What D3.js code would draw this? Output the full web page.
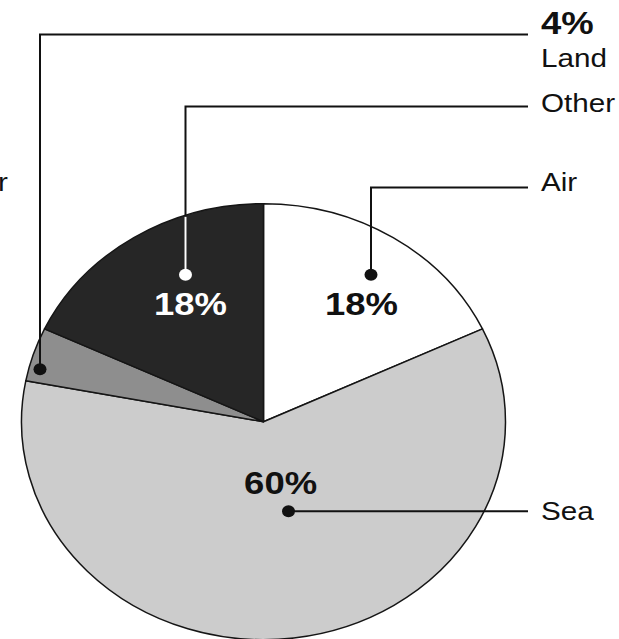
<!DOCTYPE html>
<html>
<head>
<meta charset="utf-8">
<script src="https://cdn.jsdelivr.net/npm/d3@7"></script>
<style>
  html, body { margin: 0; padding: 0; background: #fff; overflow: hidden; }
  text { font-family: "Liberation Sans", Arial, Helvetica, sans-serif; }
</style>
</head>
<body>
<svg id="chart" width="619" height="639"></svg>
<script>
// ---- data ----
const categories = ["Air", "Sea", "Land", "Other"];
const values = [18, 60, 4, 18];
const percentLabels = ["18%", "60%", "4%", "18%"];

// ---- styles / layout (kept separate from data) ----
const fills = { Air: "#ffffff", Sea: "#cccccc", Land: "#8e8e8e", Other: "#262626" };
const pctColor = { Air: "#111", Sea: "#111", Land: "#111", Other: "#ffffff" };
const dotColor = { Air: "#111", Sea: "#111", Land: "#111", Other: "#ffffff" };
const cx = 263.5, cy = 421.7, rx = 242, ry = 218;
const textScaleX = 1.14;
const labelX = 541, lineEndX = 528;
// callout geometry: dot offset from centre, elbow y (null = straight), label baseline
const callouts = {
  Air:   { dx: 107.5, dy: -147,  elbowY: 187.5, nameY: 191 },
  Other: { dx: -78,   dy: -147,  elbowY: 106.5, nameY: 112 },
  Land:  { dx: -223.5, dy: -52.5, elbowY: 34.5,  nameY: 67 },
  Sea:   { dx: 25,    dy: 89.5,  elbowY: null,  nameY: 520 }
};
const pctPos = {
  Air:   { x: 361.5, y: 315, anchor: "middle" },
  Other: { x: 190.5, y: 315, anchor: "middle" },
  Sea:   { x: 280.6, y: 494, anchor: "middle" },
  Land:  { x: labelX, y: 33.5, anchor: "start" }
};

const svg = d3.select("#chart");
const data = categories.map((c, i) => ({ cat: c, value: values[i], pct: percentLabels[i] }));

const pie = d3.pie().sort(null).value(d => d.value);
const arc = d3.arc().innerRadius(0).outerRadius(ry);

const pieG = svg.append("g")
  .attr("transform", `translate(${cx},${cy}) scale(${rx / ry},1)`);

pieG.selectAll("path")
  .data(pie(data))
  .join("path")
  .attr("d", arc)
  .attr("fill", d => fills[d.data.cat])
  .attr("stroke", "#151515")
  .attr("stroke-width", 1.5)
  .attr("stroke-linejoin", "round")
  .attr("vector-effect", "non-scaling-stroke");

// callout lines
const lineG = svg.append("g");
data.forEach(d => {
  const c = callouts[d.cat];
  const px = cx + c.dx, py = cy + c.dy;
  let pts;
  if (c.elbowY === null) pts = [[px, py], [lineEndX, py]];
  else pts = [[px, py], [px, c.elbowY], [lineEndX, c.elbowY]];
  lineG.append("path")
    .attr("d", d3.line()(pts))
    .attr("fill", "none")
    .attr("stroke", d.cat === "Other" ? "#111" : "#111")
    .attr("stroke-width", 2);
});
// the part of the Other line inside its own dark slice is white
{
  const c = callouts.Other;
  const px = cx + c.dx, py = cy + c.dy;
  // find where the vertical crosses the ellipse top
  const t = (px - cx) / rx;
  const yEdge = cy - ry * Math.sqrt(1 - t * t);
  lineG.append("line")
    .attr("x1", px).attr("x2", px)
    .attr("y1", py).attr("y2", yEdge + 1.5)
    .attr("stroke", "#ffffff").attr("stroke-width", 2);
}
// Land line inside dark Other slice region is white? (passes through Other/Land edge) keep black.

// dots
svg.append("g").selectAll("ellipse")
  .data(data)
  .join("ellipse")
  .attr("cx", d => cx + callouts[d.cat].dx)
  .attr("cy", d => cy + callouts[d.cat].dy)
  .attr("rx", 6.5)
  .attr("ry", 6)
  .attr("fill", d => dotColor[d.cat]);

// percent labels
svg.append("g").selectAll("text")
  .data(data)
  .join("text")
  .attr("transform", d => `translate(${pctPos[d.cat].x},${pctPos[d.cat].y}) scale(${textScaleX},1)`)
  .attr("text-anchor", d => pctPos[d.cat].anchor)
  .attr("font-size", 32)
  .attr("font-weight", "bold")
  .attr("fill", d => pctColor[d.cat])
  .text(d => d.pct);

// category names
svg.append("g").selectAll("text")
  .data(data)
  .join("text")
  .attr("transform", d => `translate(${labelX},${callouts[d.cat].nameY}) scale(${textScaleX},1)`)
  .attr("font-size", 26)
  .attr("fill", "#111")
  .text(d => d.cat);

// partially visible label cut by the left edge
svg.append("text")
  .attr("transform", `translate(8,191) scale(${textScaleX},1)`)
  .attr("text-anchor", "end")
  .attr("font-size", 26)
  .attr("fill", "#111")
  .text("Other");
</script>
</body>
</html>
